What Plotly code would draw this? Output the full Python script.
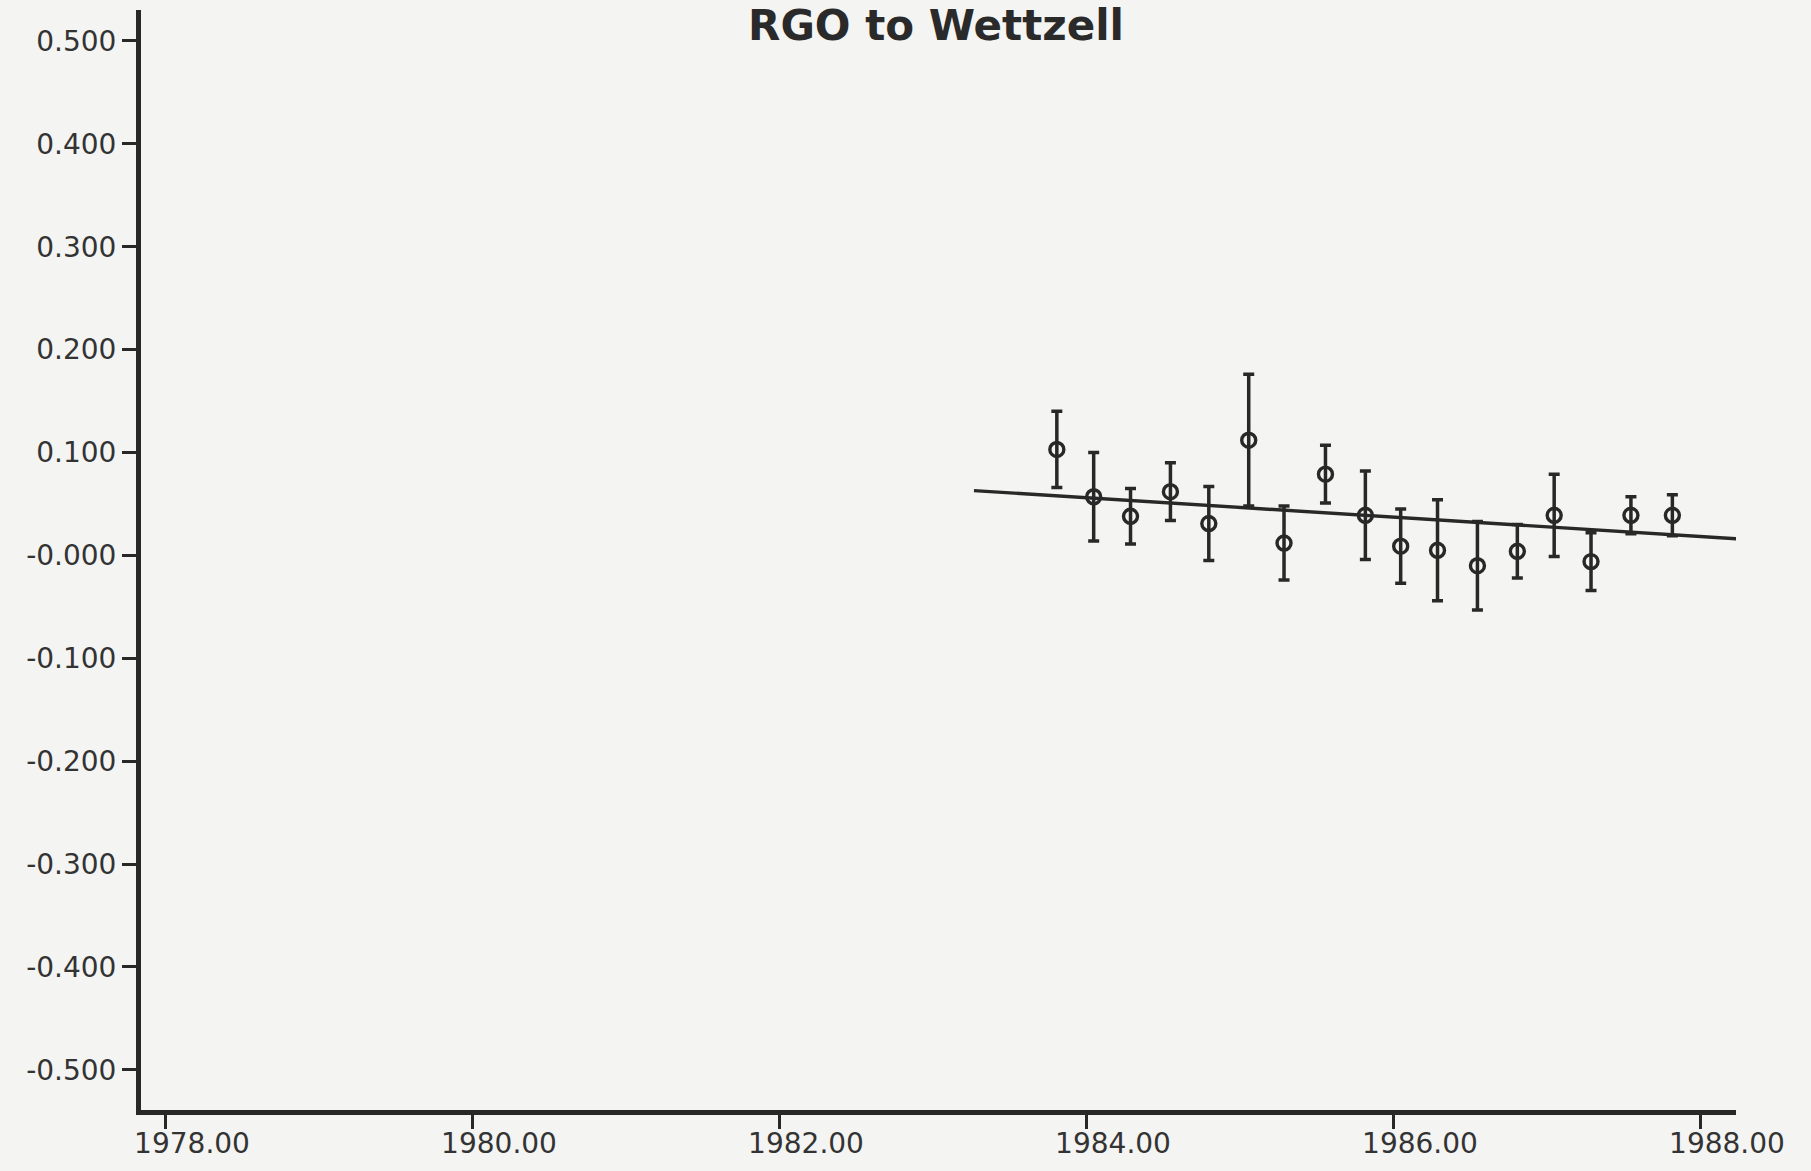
import plotly.graph_objects as go

title_text = "RGO to Wettzell"

epochs = [1983.81, 1984.05, 1984.29, 1984.55, 1984.80, 1985.06, 1985.29, 1985.56, 1985.82,
          1986.05, 1986.29, 1986.55, 1986.81, 1987.05, 1987.29, 1987.55, 1987.82]
values = [0.103, 0.057, 0.038, 0.062, 0.031, 0.112, 0.012, 0.079, 0.039,
          0.009, 0.005, -0.010, 0.004, 0.039, -0.006, 0.039, 0.039]
sigmas = [0.037, 0.043, 0.027, 0.028, 0.036, 0.064, 0.036, 0.028, 0.043,
          0.036, 0.049, 0.043, 0.026, 0.040, 0.028, 0.018, 0.020]

fit_x = [1983.27, 1988.31]
fit_y = [0.063, 0.0155]

x_tick_vals = [1978, 1980, 1982, 1984, 1986, 1988]
x_tick_text = ["1978.00", "1980.00", "1982.00", "1984.00", "1986.00", "1988.00"]
y_tick_vals = [0.5, 0.4, 0.3, 0.2, 0.1, 0.0, -0.1, -0.2, -0.3, -0.4, -0.5]
y_tick_text = ["0.500", "0.400", "0.300", "0.200", "0.100", "-0.000",
               "-0.100", "-0.200", "-0.300", "-0.400", "-0.500"]

ink = "#282828"
paper = "#f4f4f2"
font_family = "DejaVu Sans, Liberation Sans, Arial, sans-serif"

fig = go.Figure()

fig.add_trace(go.Scatter(
    x=fit_x, y=fit_y, mode="lines",
    line=dict(color=ink, width=3.4),
    showlegend=False, hoverinfo="skip",
))

fig.add_trace(go.Scatter(
    x=epochs, y=values, mode="markers",
    marker=dict(symbol="circle-open", size=14, color=ink, line=dict(color=ink, width=3.4)),
    error_y=dict(type="data", array=sigmas, visible=True, color=ink, thickness=3.5, width=5.5),
    showlegend=False,
))

fig.update_layout(
    width=1811, height=1171,
    margin=dict(l=141, r=75, t=10, b=61),
    paper_bgcolor=paper, plot_bgcolor=paper,
    font=dict(family=font_family, color="#333333", size=28),
    title=dict(
        text=title_text,
        font=dict(family=font_family, size=42, color="#2a2a2a", weight="bold"),
        x=936 / 1811, xref="container", xanchor="center",
        y=1 - 25 / 1171, yref="container", yanchor="middle",
    ),
)

fig.update_xaxes(
    range=[1977.8436, 1988.2345],
    automargin=False,
    showgrid=False, zeroline=False,
    showline=True, linecolor=ink, linewidth=5,
    ticks="outside", ticklen=14, tickwidth=3, tickcolor=ink,
    tickvals=x_tick_vals, ticktext=x_tick_text,
    ticklabelshift=27, ticklabelstandoff=-10,
    tickfont=dict(size=28, color="#333333"),
)
fig.update_yaxes(
    range=[-0.539, 0.5301],
    automargin=False,
    showgrid=False, zeroline=False,
    showline=True, linecolor=ink, linewidth=5,
    ticks="outside", ticklen=14, tickwidth=3, tickcolor=ink,
    tickvals=y_tick_vals, ticktext=y_tick_text,
    tickfont=dict(size=28, color="#333333"),
)

fig.write_html("out.html")
